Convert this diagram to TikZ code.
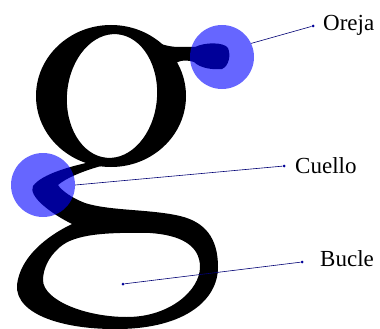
\documentclass[tikz,border=0pt]{standalone}
\usepackage{fontspec}
\setmainfont{Liberation Serif}
\usetikzlibrary{positioning}

\begin{document}
\begin{tikzpicture}[x=1pt,y=-1pt,
  zona/.style={circle,fill=blue,fill opacity=0.6,minimum size=64pt,inner sep=0pt},
  punto/.style={circle,fill=blue!60!black,minimum size=3pt,inner sep=0pt},
  rotulo/.style={anchor=base west,inner sep=0pt,font=\fontsize{23}{26}\selectfont},
  guia/.style={draw=blue!45!black,line width=0.6pt}]
  \useasboundingbox (0,0) rectangle (380,329);
  % la letra g: ojo superior
  \fill[even odd rule] (111,96) ellipse [x radius=75,y radius=71]
    {[rotate around={-5:(112,96)}] (112,96) ellipse [x radius=45,y radius=62]};
  % oreja
  \fill (150,40) .. controls (165,46) and (172,47) .. (180,47) -- (195,47)
    .. controls (205,42) and (224,42) .. (228,48)
    .. controls (231,55) and (229,66) .. (222,69)
    .. controls (212,70) and (200,68) .. (194,62)
    .. controls (188,60) and (182,60) .. (178,62) -- (160,70) -- cycle;
  % cuello y bucle
  \fill[even odd rule] (100,160) .. controls (70,166) and (42,174) .. (33,186)
    .. controls (28,196) and (50,213) .. (72,224)
    .. controls (45,237) and (20,258) .. (17,285)
    .. controls (15,315) and (65,330) .. (120,329)
    .. controls (185,328) and (218,300) .. (218,267)
    .. controls (218,238) and (205,222) .. (180,216)
    .. controls (150,209) and (110,211) .. (85,203)
    .. controls (72,198) and (62,191) .. (58,185)
    .. controls (66,178) and (85,170) .. (105,165) -- cycle
    (57,250) .. controls (70,235) and (100,232) .. (150,233)
    .. controls (180,235) and (200,245) .. (200,267)
    .. controls (200,290) and (170,317) .. (127,317)
    .. controls (85,317) and (43,300) .. (43,280)
    .. controls (43,268) and (50,256) .. (57,250) -- cycle;
  % zonas marcadas
  \node[zona] (oreja) at (222,57) {};
  \node[zona] (cuello) at (43,185) {};
  % puntos y rotulos
  \node[punto] (po) at (313,26) {};
  \node[punto] (pc) at (284,166) {};
  \node[punto] (pb) at (123,284) {};
  \node[punto] (pt) at (302,262) {};
  \node[rotulo] (to) at (323,31) {Oreja};
  \node[rotulo] (tc) at (295,173) {Cuello};
  \node[rotulo] (tb) at (320,266) {Bucle};
  \draw[guia] (oreja.25) -- (po);
  \draw[guia] (cuello.east) -- (pc);
  \draw[guia] (pb) -- (pt);
\end{tikzpicture}
\end{document}
